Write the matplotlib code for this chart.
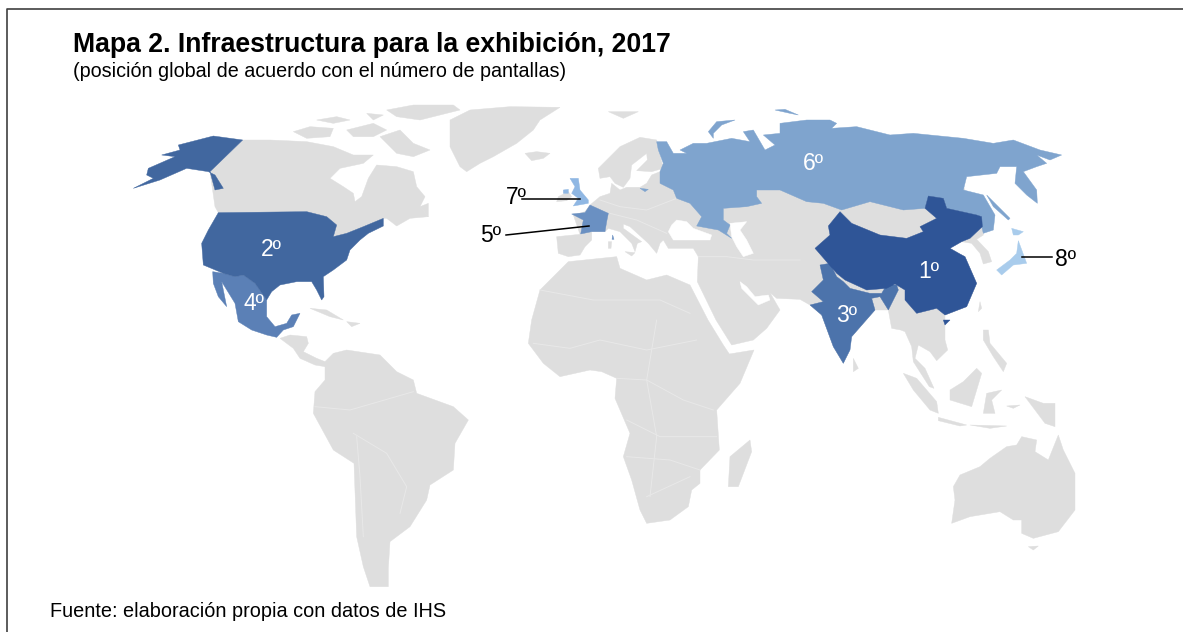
import matplotlib
matplotlib.use("Agg")
import matplotlib.pyplot as plt

plt.rcParams['font.family'] = ['Liberation Sans', 'DejaVu Sans']


def crop(x0, y0, pts):
    return [(x0 + a / 3, y0 + b / 3) for a, b in pts]


def a(pts):
    return crop(120, 100, pts)


def e(pts):
    return crop(460, 100, pts)


def r(pts):
    return crop(780, 120, pts)


def s(pts):
    return crop(280, 320, pts)


def o(pts):
    return crop(880, 330, pts)


TITLE = "Mapa 2. Infraestructura para la exhibición, 2017"
SUBTITLE = "(posición global de acuerdo con el número de pantallas)"
SOURCE = "Fuente: elaboración propia con datos de IHS"

GREY = "#DEDEDE"
RANK_COLORS = {1: "#2F5597", 2: "#41679F", 3: "#4C73AB", 4: "#5B80B6",
               5: "#6A90C2", 6: "#7FA4CE", 7: "#8FB7E3", 8: "#A9CCEC"}

# ---- grey land ----
CANADA = a([(368, 120), (450, 120), (560, 125), (640, 140), (700, 165), (760, 165), (730, 190),
            (660, 205), (630, 235), (670, 260), (700, 280), (705, 305), (725, 290), (745, 235),
            (770, 195), (830, 200), (880, 215), (890, 260), (915, 290), (900, 320), (925, 350),
            (870, 355), (830, 378), (800, 355), (790, 355), (730, 380), (680, 400), (640, 410), (650, 375),
            (620, 350), (560, 335), (295, 338), (285, 320), (270, 215)])
ARCTIC = [
    a([(520, 95), (570, 80), (640, 85), (630, 110), (560, 115)]),
    a([(590, 60), (650, 50), (690, 60), (640, 70)]),
    a([(680, 90), (760, 70), (800, 90), (760, 110), (700, 110)]),
    a([(800, 30), (880, 15), (1000, 15), (1020, 30), (900, 60), (830, 50)]),
    a([(780, 110), (840, 90), (880, 130), (930, 150), (880, 170), (830, 160)]),
    a([(740, 40), (790, 45), (760, 60)]),
    a([(900, 320), (925, 310), (925, 350)]),
]
GREENLAND = e([(-30, 60), (30, 30), (150, 20), (300, 22), (240, 60), (220, 90), (170, 130),
               (100, 170), (60, 190), (20, 215), (0, 200), (-30, 140)])
ICELAND = e([(195, 160), (230, 155), (270, 160), (250, 175), (215, 182)])
SVALBARD = e([(445, 35), (535, 35), (490, 55)])
IRELAND = e([(295, 290), (325, 275), (335, 290), (320, 302), (290, 305)])
SCANDINAVIA = e([(415, 205), (480, 140), (540, 112), (590, 120), (600, 165), (610, 205), (575, 215),
                 (530, 212), (562, 180), (560, 160), (515, 195), (510, 235), (490, 262), (465, 250),
                 (450, 230), (420, 235)])
EURASIA = (
    e([(290, 410), (360, 403), (340, 345), (375, 335), (390, 315), (420, 290), (450, 280), (455, 250),
       (480, 270), (500, 262), (540, 262), (560, 250), (575, 225), (600, 215), (640, 170), (900, 150)])
    + r([(300, 100), (500, 100), (600, 300), (607, 320), (610, 345), (590, 358), (625, 395), (635, 425),
         (610, 432), (600, 400), (575, 370), (545, 365), (510, 385), (540, 402), (555, 410), (590, 490),
         (560, 560), (495, 585)])
    + o([(195, 30), (203, 60), (170, 92), (150, 65), (115, 45), (105, 85), (135, 115), (162, 175), (148, 170),
         (100, 95), (95, 50), (75, 5), (62, 0)])
    + r([(335, 625), (325, 570), (285, 570), (215, 650), (190, 730), (160, 680), (125, 585), (90, 555)])
    + e([(1020, 598), (950, 595), (930, 578), (960, 630), (920, 685), (880, 720), (815, 735), (768, 660),
         (712, 545), (715, 470), (700, 445), (625, 445), (610, 420), (600, 430),
         (590, 460), (565, 430), (510, 380), (490, 372), (490, 385), (545, 425), (532, 430), (525, 455),
         (515, 430), (480, 395), (445, 385), (435, 395), (395, 395), (395, 420), (375, 440), (360, 465),
         (325, 470), (295, 460)])
)
AFRICA = (
    e([(325, 485), (470, 470), (480, 505), (560, 540), (620, 525), (690, 555), (744, 660), (790, 735), (808, 762),
       (882, 750)])
    + s([(1380, 190), (1310, 270), (1318, 390), (1260, 450), (1260, 490), (1235, 510),
         (1225, 560), (1170, 600), (1100, 610), (1080, 570), (1055, 480), (1030, 410), (1050, 340), (1005, 235),
         (1010, 175), (965, 155), (930, 150), (840, 170), (790, 130), (745, 70), (755, 0)])
    + e([(240, 570)])
)
MADAGASCAR = s([(1410, 360), (1415, 395), (1375, 500), (1345, 500), (1350, 410)])
SOUTH_AMERICA = s([(135, 125), (160, 100), (200, 90), (300, 105), (350, 155), (400, 180), (410, 220), (520, 260),
                   (565, 300), (525, 370), (520, 450), (450, 495), (440, 540), (390, 620), (330, 665), (325, 745),
                   (325, 800), (270, 800), (250, 740), (230, 650), (222, 430), (160, 390), (100, 280), (105, 215),
                   (135, 180)])
CENTRAL_AMERICA = s([(0, 55), (30, 45), (80, 50), (85, 70), (70, 95), (110, 115), (135, 125), (135, 140), (105, 135),
                     (60, 115), (40, 85)])
ISLANDS = [
    a([(570, 625), (620, 630), (670, 660), (630, 650)]),
    a([(680, 665), (720, 670), (695, 680)]),
    r([(600, 545), (605, 565), (595, 575)]),
    r([(220, 715), (235, 745), (220, 755)]),
    e([(495, 455), (525, 458), (515, 468)]),
    e([(445, 425), (455, 425), (453, 445), (445, 445)]),
    o([(70, 130), (110, 145), (170, 215), (175, 250), (150, 240), (100, 180)]),
    o([(175, 262), (260, 285), (240, 288), (175, 272)]),
    o([(270, 285), (380, 288), (330, 295)]),
    o([(290, 115), (305, 130), (275, 230), (210, 210), (210, 180), (250, 155)]),
    o([(320, 190), (365, 180), (335, 210), (345, 250), (310, 250)]),
    o([(435, 200), (490, 220), (525, 220), (525, 290), (495, 280), (465, 240)]),
    o([(310, 0), (325, 0), (330, 40), (380, 100), (370, 125), (340, 80), (310, 30)]),
    o([(380, 228), (420, 225), (400, 235)]),
    o([(445, 650), (475, 648), (460, 660)]),
]
AUSTRALIA = o([(380, 350), (410, 345), (425, 320), (470, 330), (465, 365), (505, 390), (535, 315), (550, 360),
               (585, 430), (585, 540), (535, 605), (460, 625), (425, 610), (425, 570), (400, 570), (360, 545),
               (270, 560), (215, 580), (225, 510), (220, 470), (240, 435), (300, 410), (330, 385)])

# ---- inland seas ----
SEAS = [
    e([(650, 360), (680, 365), (700, 385), (755, 405), (750, 420), (690, 420), (640, 420), (625, 395), (635, 375)]),
    e([(810, 370), (860, 365), (840, 390), (860, 420), (880, 460), (850, 470), (830, 440), (815, 410)]),
    e([(840, 545), (860, 560), (885, 590), (925, 585), (930, 600), (895, 615), (870, 590), (845, 565)]),
]

# ---- ranked countries ----
CHINA = [
    r([(180, 275), (215, 310), (300, 345), (380, 355), (430, 335), (420, 320), (470, 295), (435, 265), (445, 228),
       (490, 235), (500, 265), (590, 285), (605, 290), (607, 320), (570, 355), (545, 365), (510, 385), (540, 402),
       (555, 410), (590, 490), (560, 560), (495, 585), (470, 565), (410, 580), (375, 540), (375, 510), (345, 492),
       (320, 505), (260, 510), (195, 480), (170, 460), (105, 385), (150, 345), (145, 318)]),
    r([(490, 600), (510, 600), (495, 615)]),
]
USA = [
    a([(295, 338), (560, 335), (620, 350), (650, 375), (640, 410), (680, 400), (730, 380), (790, 355), (790, 378),
       (745, 400), (720, 420), (690, 450), (680, 480), (640, 510), (610, 530), (612, 590), (605, 600), (590, 570),
       (575, 545), (530, 545), (480, 555), (455, 575), (440, 600), (405, 550), (370, 525), (345, 530), (310, 520),
       (250, 495), (245, 430), (265, 390)]),
    a([(368, 120), (280, 108), (175, 135), (180, 150), (125, 165), (165, 170), (85, 205), (80, 225), (100, 235),
       (40, 265), (120, 240), (200, 205), (265, 215), (285, 225), (310, 265), (285, 270), (270, 215)]),
]
INDIA = [
    r([(120, 435), (150, 430), (170, 470), (190, 485), (210, 505), (270, 520), (305, 520), (320, 495), (350, 495),
       (355, 510), (325, 570), (300, 530), (275, 535), (285, 570), (215, 650), (210, 690), (190, 730), (160, 680),
       (125, 585), (90, 555), (130, 545), (95, 515), (130, 480)]),
]
MEXICO = [
    a([(278, 515), (310, 520), (345, 530), (370, 525), (405, 550), (440, 600), (440, 650), (465, 680), (500, 670),
       (515, 645), (540, 640), (520, 680), (490, 690), (470, 712), (440, 705), (395, 690), (355, 665), (345, 610),
       (305, 545), (320, 620), (295, 590), (280, 550)]),
]
FRANCE = [
    e([(390, 315), (445, 340), (440, 365), (435, 395), (395, 395), (362, 402), (370, 360), (335, 342), (375, 338)]),
    e([(458, 405), (462, 418), (456, 418)]),
]
RUSSIA = [
    e([(590, 125), (620, 125), (640, 160), (680, 160), (660, 150), (700, 130), (740, 130), (815, 115), (870, 125),
       (850, 95), (880, 90), (915, 150), (945, 135), (910, 105), (960, 100)])
    + r([(0, 10), (80, 0), (150, 0), (170, 10), (155, 25), (230, 20), (330, 45), (400, 40), (550, 55), (640, 70),
         (700, 60), (780, 90), (845, 105), (810, 120), (770, 105), (800, 130), (770, 140), (730, 155), (770, 210),
         (772, 250), (740, 225), (705, 190), (710, 140), (660, 140), (650, 160), (560, 170), (550, 210),
         (610, 225), (645, 285), (640, 330), (610, 340), (605, 320), (605, 290), (590, 285), (500, 265), (490, 235),
         (445, 228), (435, 265), (370, 270), (270, 245), (185, 270), (130, 250), (80, 245), (0, 210)])
    + e([(890, 270), (890, 290), (905, 310), (860, 320), (790, 325), (790, 360), (810, 375), (800, 400), (815, 415),
         (775, 390), (710, 378), (725, 350), (690, 310), (650, 295), (640, 270), (600, 250), (600, 215), (610, 190),
         (595, 150)]),
    e([(745, 95), (770, 65), (825, 60), (785, 75), (760, 100), (760, 115)]),
    e([(945, 30), (975, 28), (1015, 45), (990, 40)]),
    e([(540, 265), (565, 268), (555, 275)]),
    r([(620, 225), (690, 295), (685, 300), (640, 260)]),
]
UK = [
    e([(330, 235), (355, 235), (360, 270), (385, 300), (385, 310), (340, 318), (355, 295), (335, 280), (345, 260)]),
    e([(310, 270), (325, 268), (325, 280), (310, 280)]),
]
JAPAN = [
    r([(715, 362), (740, 430), (700, 435), (665, 465), (650, 450), (690, 420), (710, 400)]),
    r([(695, 325), (730, 335), (715, 345), (700, 345)]),
]
COUNTRIES = {1: CHINA, 2: USA, 3: INDIA, 4: MEXICO, 5: FRANCE, 6: RUSSIA, 7: UK, 8: JAPAN}

# ---- faint borders ----
BORDERS = [
    s([(1010, 175), (1100, 180), (1210, 240), (1300, 270)]),
    s([(760, 70), (870, 85), (960, 60), (1100, 90), (1250, 60)]),
    s([(1040, 300), (1140, 350), (1250, 350), (1310, 350)]),
    s([(1040, 410), (1170, 420), (1260, 450)]),
    s([(1100, 530), (1230, 470)]),
    s([(1130, 0), (1100, 180), (1130, 350), (1110, 530)]),
    s([(220, 340), (320, 400), (380, 500), (360, 580)]),
    s([(105, 260), (210, 270), (400, 215)]),
    s([(230, 350), (240, 470), (250, 650)]),
    e([(420, 300), (480, 320), (560, 330), (650, 295)]),
    e([(450, 340), (530, 360), (620, 400)]),
    e([(715, 470), (800, 470), (880, 480), (1020, 480)]),
    e([(240, 570), (400, 600), (600, 600), (690, 640)]),
]

LABELS = [("1º", 929, 271, "white"), ("2º", 271, 250, "white"), ("3º", 847, 316, "white"), ("4º", 254, 304, "white"),
          ("5º", 491, 235, "black"), ("6º", 813, 164, "white"), ("7º", 516, 198, "black"), ("8º", 1066, 260, "black")]
LEADERS = [((522, 580), (199, 199)), ((506, 589), (235, 226)), ((1022, 1052), (257, 257))]

W, H = 1183, 632
fig = plt.figure(figsize=(W / 100, H / 100), dpi=100)
ax = fig.add_axes([0, 0, 1, 1])
ax.set_xlim(0, W)
ax.set_ylim(H, 0)
ax.axis("off")


def paint(poly, color, z):
    xs, ys = zip(*poly)
    ax.fill(xs, ys, facecolor=color, edgecolor=color, linewidth=0.3, zorder=z)


grey_land = [CANADA, GREENLAND, ICELAND, SVALBARD, IRELAND, SCANDINAVIA, EURASIA, AFRICA, MADAGASCAR,
             SOUTH_AMERICA, CENTRAL_AMERICA, AUSTRALIA] + ARCTIC + ISLANDS
for p in grey_land:
    paint(p, GREY, 1)
for line in BORDERS:
    xs, ys = zip(*line)
    ax.plot(xs, ys, color="#E8E8E8", lw=0.7, zorder=1.5)
for p in SEAS:
    paint(p, "white", 2)
for rank, polys in COUNTRIES.items():
    for p in polys:
        paint(p, RANK_COLORS[rank], 3 + (rank <= 2) * 0.5)

for xs, ys in LEADERS:
    ax.plot(xs, ys, color="black", lw=1.1, zorder=5)
for text, x, y, c in LABELS:
    ax.text(x, y, text, color=c, fontsize=16.5, ha="center", va="center", zorder=6)

ax.text(73, 52, TITLE, fontsize=19.15, fontweight="bold", color="black", ha="left", va="baseline")
ax.text(73, 77, SUBTITLE, fontsize=14.2, color="black", ha="left", va="baseline")
ax.text(50, 617, SOURCE, fontsize=14.35, color="black", ha="left", va="baseline")

ax.plot([7.5, 7.5, W], [H, 8.5, 8.5], color="#404040", lw=1.2, zorder=7)

fig.savefig("out.png", dpi=100)
